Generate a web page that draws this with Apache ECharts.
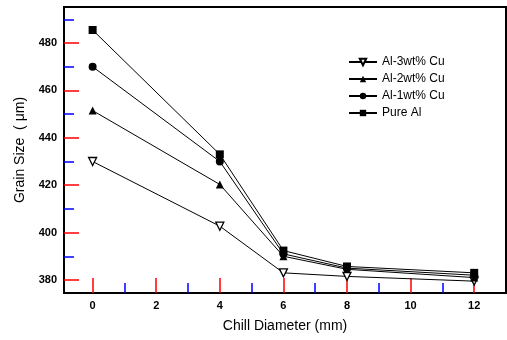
<!DOCTYPE html>
<html>
<head>
<meta charset="utf-8">
<script src="https://cdn.jsdelivr.net/npm/echarts@6/dist/echarts.min.js"></script>
<style>
  html, body { margin: 0; padding: 0; background: #fff; }
  #chart { width: 507px; height: 340px; }
</style>
</head>
<body>
<div id="chart"></div>
<script>
// chill diameter (mm)
const diameters = [0, 4, 6, 8, 12]
// grain size (um) per alloy
const al3Cu = [430, 402.7, 383, 381.5, 379.5]
const al2Cu = [451.5, 420.3, 390, 384.5, 381]
const al1Cu = [470, 430, 391, 385, 382]
const pureAl = [485.5, 433, 392.4, 385.7, 383]

const xMajorTicks = [0, 2, 4, 6, 8, 10, 12]
const xMinorTicks = [1, 3, 5, 7, 9, 11]
const yMajorTicks = [380, 400, 420, 440, 460, 480]
const yMinorTicks = [390, 410, 430, 450, 470, 490]

const font = 'Liberation Sans, Arial, sans-serif'
const pairs = arr => diameters.map((d, i) => [d, arr[i]])

const chart = echarts.init(document.getElementById('chart'))

const mkSeries = (name, data, symbol, filled, rotate) => ({
  name: name,
  type: 'line',
  data: pairs(data),
  symbol: symbol,
  symbolSize: 8,
  symbolRotate: rotate || 0,
  lineStyle: { color: '#000', width: 1 },
  itemStyle: {
    color: filled ? '#000' : '#fff',
    borderColor: '#000',
    borderWidth: filled ? 0 : 1.3
  },
  emphasis: { disabled: true }
})

chart.setOption({
  animation: false,
  grid: {
    left: 64, right: 1, top: 7, bottom: 47,
    show: true, borderColor: '#000', borderWidth: 2
  },
  legend: {
    orient: 'vertical',
    left: 343, top: 51,
    itemWidth: 28, itemHeight: 8, itemGap: 5,
    textStyle: { fontFamily: font, fontSize: 12, color: '#000' },
    data: ['Al-3wt% Cu', 'Al-2wt% Cu', 'Al-1wt% Cu', 'Pure Al']
  },
  // axis titles
  graphic: [
    {
      type: 'text', x: 285, y: 326,
      style: {
        text: 'Chill Diameter (mm)', font: '14px ' + font, fill: '#000',
        align: 'center', verticalAlign: 'middle'
      }
    },
    {
      type: 'text', x: 20, y: 150, rotation: Math.PI / 2,
      style: {
        text: 'Grain Size  ( \u03bcm)', font: '14px ' + font, fill: '#000',
        align: 'center', verticalAlign: 'middle'
      }
    }
  ],
  xAxis: [
    {
      type: 'value', min: -0.9, max: 13, splitLine: { show: false },
      axisLine: { onZero: false, lineStyle: { color: '#000', width: 2 } },
      axisTick: { show: true, inside: true, length: 15, customValues: xMajorTicks, lineStyle: { color: '#f00', width: 1.5 } },
      axisLabel: {
        customValues: xMajorTicks, margin: 7,
        fontFamily: font, fontSize: 11, fontWeight: 'bold', color: '#000'
      }
    },
    {
      type: 'value', min: -0.9, max: 13, position: 'bottom', splitLine: { show: false },
      axisLine: { show: false, onZero: false },
      axisTick: { show: true, inside: true, length: 10, customValues: xMinorTicks, lineStyle: { color: '#00f', width: 1.5 } },
      axisLabel: { show: false }
    }
  ],
  yAxis: [
    {
      type: 'value', min: 374.5, max: 495.2, splitLine: { show: false },
      axisLine: { show: true, onZero: false, lineStyle: { color: '#000', width: 2 } },
      axisTick: { show: true, inside: true, length: 15, customValues: yMajorTicks, lineStyle: { color: '#f00', width: 1.5 } },
      axisLabel: {
        customValues: yMajorTicks, margin: 7,
        fontFamily: font, fontSize: 11, fontWeight: 'bold', color: '#000'
      }
    },
    {
      type: 'value', min: 374.5, max: 495.2, position: 'left', splitLine: { show: false },
      axisLine: { show: false, onZero: false },
      axisTick: { show: true, inside: true, length: 10, customValues: yMinorTicks, lineStyle: { color: '#00f', width: 1.5 } },
      axisLabel: { show: false }
    }
  ],
  series: [
    mkSeries('Al-3wt% Cu', al3Cu, 'triangle', false, 180),
    mkSeries('Al-2wt% Cu', al2Cu, 'triangle', true),
    mkSeries('Al-1wt% Cu', al1Cu, 'circle', true),
    mkSeries('Pure Al', pureAl, 'rect', true)
  ]
})
</script>
</body>
</html>
